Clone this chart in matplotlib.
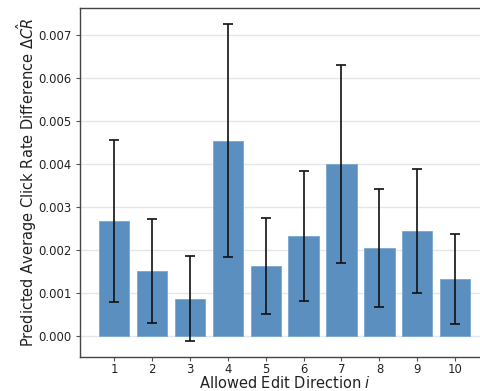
import matplotlib
matplotlib.use("Agg")
import matplotlib.pyplot as plt
import numpy as np

directions = [1, 2, 3, 4, 5, 6, 7, 8, 9, 10]
mean_diff = [0.00267, 0.00151, 0.00086, 0.00455, 0.00162, 0.00233, 0.00400, 0.00205, 0.00243, 0.00133]
ci_low = [0.00079, 0.00030, -0.00012, 0.00183, 0.00050, 0.00082, 0.00170, 0.00067, 0.00099, 0.00027]
ci_high = [0.00457, 0.00272, 0.00186, 0.00727, 0.00274, 0.00383, 0.00631, 0.00343, 0.00389, 0.00238]


def main():
  mean = np.array(mean_diff)
  yerr = [mean - np.array(ci_low), np.array(ci_high) - mean]

  fig = plt.figure(figsize=(4.81, 3.91), dpi=100)
  ax = fig.add_axes([0.167, 0.0877, 0.8495, 0.8918])
  ax.set_axisbelow(True)
  ax.yaxis.grid(True, color="#e6e6e6", linewidth=1.0)
  ax.bar(directions, mean, width=0.8, color="#5b8fbf", edgecolor="#7aa6cf",
         linewidth=0.6, yerr=yerr, capsize=3.5,
         error_kw=dict(ecolor="#111111", elinewidth=1.2, capthick=1.2))
  ax.set_xticks(directions)
  ax.set_yticks(np.arange(0, 0.0071, 0.001))
  ax.tick_params(labelsize=8.4, length=3, color="#555555", labelcolor="#222222")
  ax.tick_params(axis="x", pad=1.5)
  for s in ax.spines.values():
    s.set_color("#444444")
    s.set_linewidth(1.0)
  ax.set_xlabel("Allowed Edit Direction $i$", fontsize=10.5, color="#222222",
                labelpad=-1)
  ax.set_ylabel(r"Predicted Average Click Rate Difference $\Delta\hat{CR}$",
                fontsize=10.5, color="#222222", labelpad=-0.5)
  fig.savefig("out.png", dpi=100)


main()
